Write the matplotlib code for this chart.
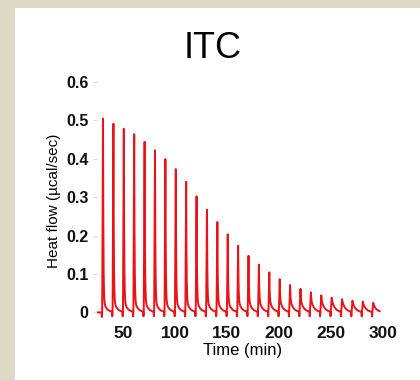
import numpy as np
import matplotlib
matplotlib.use("Agg")
import matplotlib.pyplot as plt

# Injection times (min) and peak heat flow (ucal/sec)
inj_times = [30, 40, 50, 60, 70, 80, 90, 100, 110, 120, 130, 140, 150, 160,
             170, 180, 190, 200, 210, 220, 230, 240, 250, 260, 270, 280, 290]
peak_heights = [0.505, 0.490, 0.477, 0.463, 0.443, 0.421, 0.398, 0.372, 0.339,
                0.301, 0.266, 0.234, 0.202, 0.172, 0.146, 0.123, 0.103, 0.085,
                0.070, 0.060, 0.051, 0.043, 0.037, 0.033, 0.029, 0.027, 0.024]
x_ticks = [50, 100, 150, 200, 250, 300]
y_ticks = [0, 0.1, 0.2, 0.3, 0.4, 0.5, 0.6]
y_ticklabels = ["0", "0.1", "0.2", "0.3", "0.4", "0.5", "0.6"]

# Build the thermogram trace: each injection gives a sharp rise, a fast
# drop and a slower tail back to the baseline
t = np.arange(25.0, 297.0, 0.05)
flow = np.zeros_like(t)
rise, tau_fast, tau_slow, dip = 0.8, 0.35, 3.0, 0.012
for ti, h in zip(inj_times, peak_heights):
    s = t - ti
    a = min(0.9 * h, 0.032)
    after = np.clip(s - rise, 0, None)
    decay = np.where(s >= rise,
                     (h - a) * np.exp(-after / tau_fast)
                     + a * np.exp(-after / tau_slow), 0.0)
    up = np.where((s >= 0) & (s < rise), h * s / rise, 0.0)
    flow += up + decay
    flow -= dip * np.exp(-((s + 0.3) / 0.15) ** 2)

fig = plt.figure(figsize=(4.2, 3.8), dpi=100)
fig.patch.set_facecolor("#dedac6")
panel = plt.Rectangle((15 / 420, 0), 1 - 15 / 420, 1 - 8 / 380,
                      transform=fig.transFigure, facecolor="white",
                      edgecolor="none", zorder=-5)
fig.patches.append(panel)

ax = fig.add_axes([97 / 420, 1 - 320 / 380, (388 - 97) / 420, (320 - 82) / 380])
ax.set_facecolor("none")
ax.plot(t, flow, color="#e8141a", lw=1.4)
ax.set_xlim(25, 305)
ax.set_ylim(-0.02, 0.6)

for sp in ax.spines.values():
    sp.set_visible(False)

font = "Liberation Sans"
ax.set_xticks(x_ticks)
ax.set_xticklabels([str(v) for v in x_ticks], fontsize=12.5, fontweight="bold",
                   family=font, color="#111111")
ax.set_yticks(y_ticks)
ax.set_yticklabels(y_ticklabels, fontsize=11.5, fontweight="bold", family=font,
                   color="#111111")
ax.tick_params(axis="x", length=0, pad=4)
ax.tick_params(axis="y", length=3, width=0.8, color="#dddddd", pad=3)

ax.set_xlabel("Time (min)", fontsize=12, family=font, labelpad=2)
ax.set_ylabel("Heat flow (\u00b5cal/sec)", fontsize=11, family=font, labelpad=4)

fig.text(213 / 420, 1 - 49 / 380, "ITC", fontsize=26, family=font,
         ha="center", va="center")

fig.savefig("out.png", dpi=100, facecolor=fig.get_facecolor())
